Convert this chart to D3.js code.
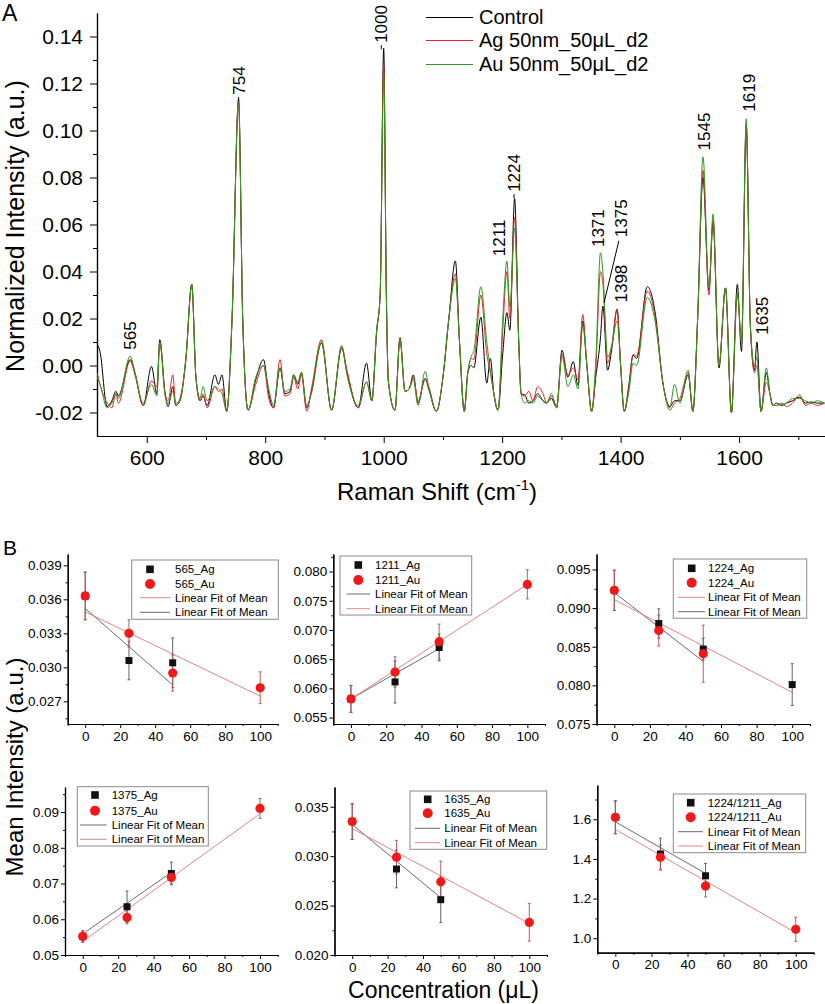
<!DOCTYPE html>
<html><head><meta charset="utf-8">
<script src="https://cdn.jsdelivr.net/npm/d3@7"></script>
<style>
body{margin:0;background:#fff;}
svg text{font-family:"Liberation Sans",Arial,Helvetica,sans-serif;fill:#000;}
</style></head><body>
<svg id="c" width="825" height="1004"></svg>
<script>
// ---------------- DATA: Panel A (Raman spectra, key points) ----------------
const wavenumber = [516,521,533,541,548,552,572,580,594,608,617,622,631,636,644,649,656,666,676,683,690,695,702,715,721,727,735,744,755,762,771,784,797,806,814,825,833,842,848,855,861,870,878,895,912,929,938,957,971,980,988,994,1000,1004.5,1008,1019,1027.5,1036,1043,1050,1058,1070,1076,1089,1100,1110,1121,1128,1136,1142,1148,1152,1164,1174,1180,1186,1193,1201,1208,1213,1221,1228,1232,1238,1245,1252,1260,1269,1275,1283,1292,1301,1311,1320,1328,1336,1343,1351,1358,1366,1370,1378,1385,1394,1400,1406,1414,1421,1427,1445,1458,1472,1483,1491,1500,1514,1522,1530,1539,1549,1556,1566,1577,1587,1597,1604,1612,1619,1626,1630,1637,1646,1652,1657,1663,1672,1680,1690,1702,1712,1722,1732,1744];
const controlSpec = [0.009,0.006,-0.0175,-0.015,-0.011,-0.013,0.0025,-0.003,-0.017,-0.0004,-0.012,0.011,-0.012,-0.0175,-0.009,-0.017,-0.015,0.003,0.0345,-0.005,-0.015,-0.013,-0.017,-0.004,-0.008,-0.004,-0.0195,0.02,0.1135,0.02,-0.019,-0.006,0.0025,-0.012,-0.018,-0.001,-0.012,-0.011,-0.004,-0.008,-0.003,-0.018,-0.011,0.0096,-0.019,0.0074,-0.003,-0.018,0.001,-0.015,0.014,0.03,0.135,0.03,-0.007,-0.019,0.0115,-0.011,-0.010,-0.004,-0.016,-0.0055,-0.010,-0.0195,-0.005,0.02,0.0445,0.01,-0.0195,-0.003,0.000,-0.001,0.0205,-0.0075,0.003,-0.012,-0.019,0.005,0.0225,0.015,0.071,0.01,-0.012,-0.0125,-0.016,-0.015,-0.012,-0.015,-0.016,-0.014,-0.018,0.0065,-0.005,0.0017,-0.0085,0.019,0.000,-0.0195,-0.005,0.012,0.0253,-0.002,0.007,0.0239,0.000,-0.0195,-0.008,0.0044,0.003,0.0336,0.023,-0.0085,-0.0175,-0.015,-0.015,-0.004,-0.0195,0.02,0.080,0.032,0.061,-0.001,0.033,-0.020,0.0345,0.006,0.1025,0.017,-0.002,0.010,-0.0195,-0.003,-0.012,-0.017,-0.016,-0.017,-0.016,-0.015,-0.0135,-0.016,-0.0155,-0.016,-0.016];
const agSpec = [-0.003,-0.008,-0.016,-0.018,-0.012,-0.016,0.002,-0.004,-0.017,-0.0065,-0.009,0.010,-0.012,-0.015,-0.004,-0.017,-0.014,0.002,0.0345,-0.005,-0.015,-0.012,-0.018,-0.009,-0.011,-0.010,-0.0195,0.02,0.1125,0.02,-0.019,-0.008,0.000,-0.014,-0.018,0.0025,-0.013,-0.012,-0.005,-0.010,-0.004,-0.0195,-0.010,0.011,-0.019,0.008,-0.002,-0.018,-0.007,-0.015,0.014,0.03,0.128,0.03,-0.007,-0.019,0.012,-0.011,-0.010,-0.005,-0.015,-0.006,-0.009,-0.0195,-0.005,0.02,0.039,0.01,-0.0195,-0.003,0.003,0.0025,0.030,0.005,-0.003,-0.012,-0.019,0.015,0.040,0.020,0.063,0.01,-0.012,-0.013,-0.011,-0.015,-0.009,-0.012,-0.016,-0.013,-0.017,0.005,-0.004,-0.001,-0.006,0.0217,0.000,-0.0195,-0.002,0.040,0.035,0.001,0.0085,0.0239,0.000,-0.0195,-0.009,0.0047,0.004,0.0317,0.021,-0.0085,-0.019,-0.016,-0.014,-0.003,-0.0195,0.02,0.083,0.030,0.062,0.000,0.033,-0.020,0.030,0.011,0.102,0.017,-0.003,0.000,-0.0195,-0.007,-0.012,-0.017,-0.017,-0.016,-0.0175,-0.016,-0.0125,-0.017,-0.016,-0.017,-0.016];
const auSpec = [-0.005,-0.008,-0.018,-0.016,-0.012,-0.014,0.004,-0.003,-0.016,-0.008,-0.013,0.010,-0.013,-0.016,-0.011,-0.016,-0.015,0.003,0.0345,-0.005,-0.014,-0.009,-0.015,-0.009,-0.010,-0.012,-0.0195,0.02,0.112,0.02,-0.019,-0.005,0.000,-0.010,-0.017,-0.001,-0.011,-0.010,-0.004,-0.007,-0.003,-0.017,-0.012,0.010,-0.019,0.0085,-0.004,-0.017,-0.007,-0.015,0.015,0.03,0.124,0.03,-0.007,-0.019,0.011,-0.011,-0.010,-0.006,-0.017,-0.0025,-0.009,-0.0195,-0.005,0.02,0.037,0.01,-0.0195,-0.003,0.004,0.006,0.0335,0.010,-0.002,-0.012,-0.019,0.020,0.0445,0.025,0.0585,0.01,-0.012,-0.016,-0.015,-0.016,-0.013,-0.015,-0.016,-0.012,-0.018,0.004,-0.009,-0.004,-0.010,0.017,0.000,-0.0195,0.002,0.048,0.040,0.0035,0.0085,0.019,0.000,-0.0195,-0.011,0.001,0.000,0.029,0.019,-0.0085,-0.018,-0.008,-0.016,-0.002,-0.0195,0.02,0.0888,0.033,0.0645,0.000,0.033,-0.020,0.031,0.010,0.105,0.017,0.000,0.0035,-0.0195,-0.001,-0.012,-0.017,-0.017,-0.0165,-0.016,-0.014,-0.014,-0.015,-0.016,-0.015,-0.016];
const seriesNames = ["Control","Ag 50nm_50\u03bcL_d2","Au 50nm_50\u03bcL_d2"];
const xTickValues = [600,800,1000,1200,1400,1600];
const yTickValues = [-0.02,0,0.02,0.04,0.06,0.08,0.10,0.12,0.14];
const peakLabels = ["565","754","1000","1211","1224","1371","1375","1398","1545","1619","1635"];
const peakLabelWn = [572,755,996,1195,1220,1362,1401,1401,1541,1616,1639];
const peakLabelBase = [0.0067,0.1152,0.1373,0.0465,0.0739,0.0504,0.0546,0.0268,0.0915,0.108,0.0131];

// ---------------- DATA: Panel B (mean intensity vs concentration) ----------------
const bands = ["565","1211","1224","1375","1635","1224/1211"];
const agConc = [[0,25,50],[0,25,50],[0,25,50,100],[0,25,50],[0,25,50],[0,25,50]];
const agMean = [[0.0363,0.0306,0.0304],[0.0582,0.0611,0.0670],[0.0923,0.0880,0.0847,0.0801],[0.0552,0.0635,0.0728],[0.0335,0.0287,0.0256],[1.610,1.425,1.315]];
const agErr  = [[0.0021,0.0017,0.0022],[0.0023,0.0036,0.0023],[0.0026,0.0019,0.0014,0.0027],[0.0016,0.0044,0.0032],[0.0018,0.0019,0.0023],[0.083,0.080,0.062]];
const auConc = [[0,25,50,100],[0,25,50,100],[0,25,50],[0,25,50,100],[0,25,50,100],[0,25,50,100]];
const auMean = [[0.0363,0.0330,0.0295,0.0282],[0.0582,0.0628,0.0680,0.0778],[0.0923,0.0871,0.0841],[0.0552,0.0605,0.0717,0.0910],[0.0335,0.0299,0.0274,0.0233],[1.610,1.408,1.263,1.045]];
const auErr  = [[0.0021,0.0012,0.0016,0.0014],[0.0023,0.0026,0.0030,0.0025],[0.0026,0.0020,0.0037],[0.0016,0.0018,0.0018,0.0028],[0.0018,0.0017,0.0021,0.0019],[0.083,0.063,0.055,0.061]];
// fit line endpoints [x0, y0, x1, y1]
const agFit = [[0,0.0352,50,0.02845],[0,0.0582,50,0.0668],[0,0.0920,50,0.0831],[0,0.0559,50,0.0731],[0,0.0332,50,0.0258],[0,1.587,50,1.327]];
const auFit = [[0,0.0349,100,0.02746],[0,0.0582,100,0.0778],[0,0.0911,100,0.0791],[0,0.0538,100,0.0895],[0,0.0328,100,0.0232],[0,1.549,100,1.028]];
const yDomains = [[0.025,0.040],[0.0539,0.083],[0.075,0.097],[0.05,0.097],[0.020,0.037],[0.927,1.773]];
const yTicksB = [[0.027,0.030,0.033,0.036,0.039],[0.055,0.060,0.065,0.070,0.075,0.080],[0.075,0.080,0.085,0.090,0.095],[0.05,0.06,0.07,0.08,0.09],[0.020,0.025,0.030,0.035],[1.0,1.2,1.4,1.6]];
const yDecimals = [3,3,3,2,3,1];
const concTicks = [0,20,40,60,80,100];
const fitLabel = "Linear Fit of Mean";

// ---------------- DRAWING ----------------
const svg = d3.select("#c");
const FONT = '"Liberation Sans",Arial,Helvetica,sans-serif';
const colC = "#000000", colAg = "#e3262c", colAu = "#2f9a1f";

function styleAxis(g, fs){
  g.attr("font-size", fs).attr("font-family", FONT);
  g.selectAll("path.domain").attr("stroke","#000").attr("stroke-width",1.2);
  g.selectAll(".tick line").attr("stroke","#000").attr("stroke-width",1);
  g.selectAll(".tick text").attr("fill","#000");
}

// Panel A
const xS = d3.scaleLinear().domain([516,1745]).range([97,825]);
const yS = d3.scaleLinear().domain([-0.03,0.15]).range([436,13]);

const gxA = svg.append("g").attr("transform","translate(0,436)")
  .call(d3.axisBottom(xS).tickValues(xTickValues).tickSize(7).tickPadding(7).tickSizeOuter(0).tickFormat(d3.format("d")));
styleAxis(gxA, 21);
const gxAm = svg.append("g").attr("transform","translate(0,436)")
  .call(d3.axisBottom(xS).tickValues([700,900,1100,1300,1500,1700]).tickSize(4).tickSizeOuter(0).tickFormat(""));
styleAxis(gxAm, 21);
const gyA = svg.append("g").attr("transform","translate(97,0)")
  .call(d3.axisLeft(yS).tickValues(yTickValues).tickSize(7).tickPadding(7).tickSizeOuter(0).tickFormat(d=>d.toFixed(2)));
styleAxis(gyA, 21);
const gyAm = svg.append("g").attr("transform","translate(97,0)")
  .call(d3.axisLeft(yS).tickValues([-0.01,0.01,0.03,0.05,0.07,0.09,0.11,0.13]).tickSize(4).tickSizeOuter(0).tickFormat(""));
styleAxis(gyAm, 21);

const specLine = d3.line().x((d,i)=>xS(wavenumber[i])).y(d=>yS(d)).curve(d3.curveMonotoneX);
const specs = [controlSpec, agSpec, auSpec];
const specCols = [colC, colAg, colAu];
svg.append("clipPath").attr("id","clipA").append("rect").attr("x",97).attr("y",0).attr("width",728).attr("height",436);
specs.forEach((s,k)=>{
  svg.append("path").attr("d",specLine(s)).attr("fill","none").attr("stroke",specCols[k])
    .attr("stroke-width",1).attr("stroke-linejoin","round").attr("clip-path","url(#clipA)");
});

// peak labels
peakLabels.forEach((t,i)=>{
  const px = xS(peakLabelWn[i]), py = yS(peakLabelBase[i]);
  svg.append("text").attr("transform",`translate(${px},${py}) rotate(-90)`)
    .attr("dy","0.36em").attr("font-size",17).attr("font-family",FONT).text(t);
});
// short leaders
[[754,0.1142,0.1128],[1000,0.1363,0.1345],[1224,0.0729,0.0712]].forEach(l=>{
  const wnIdx = peakLabels.indexOf(String(l[0]));
  const px = xS(peakLabelWn[wnIdx]);
  svg.append("line").attr("x1",px).attr("x2",px).attr("y1",yS(l[1])).attr("y2",yS(l[2])).attr("stroke","#000").attr("stroke-width",1);
});
// 1375 diagonal leader
svg.append("line").attr("x1",xS(1397)).attr("y1",yS(0.0531)).attr("x2",xS(1372)).attr("y2",yS(0.0267)).attr("stroke","#000").attr("stroke-width",1);

// legend A
seriesNames.forEach((n,k)=>{
  const yy = 16.5 + k*23.5;
  svg.append("line").attr("x1",426).attr("x2",473).attr("y1",Math.round(yy)+0.5).attr("y2",Math.round(yy)+0.5).attr("stroke",specCols[k]).attr("stroke-width",1.2);
  svg.append("text").attr("x",479).attr("y",yy+7).attr("font-size",20).attr("font-family",FONT).text(n);
});

// titles A
svg.append("text").attr("x",2).attr("y",21).attr("font-size",23).attr("font-family",FONT).text("A");
svg.append("text").attr("transform","translate(15,226) rotate(-90)").attr("text-anchor","middle").attr("dy","0.36em")
  .attr("font-size",25).attr("font-family",FONT).text("Normalized Intensity (a.u.)");
const xt = svg.append("text").attr("x",437).attr("y",500).attr("text-anchor","middle").attr("font-size",24).attr("font-family",FONT);
xt.append("tspan").text("Raman Shift (cm");
xt.append("tspan").attr("font-size",15).attr("dy",-10).text("-1");
xt.append("tspan").attr("dy",10).text(")");

// Panel B
svg.append("text").attr("x",3).attr("y",555).attr("font-size",21).attr("font-family",FONT).text("B");
svg.append("text").attr("transform","translate(14,767) rotate(-90)").attr("text-anchor","middle").attr("dy","0.36em")
  .attr("font-size",24).attr("font-family",FONT).text("Mean Intensity (a.u.)");
svg.append("text").attr("x",443.5).attr("y",998).attr("text-anchor","middle").attr("font-size",23).attr("font-family",FONT).text("Concentration (\u03bcL)");

const layouts = [
  {L:67.7,R:277.7,T:554,B:724, box:[131.7,560,278.3,619.3], rows:[569.3,584,597.7,612.3], sym:150, l0:140, l1:170, tx:175, order:["au","ag"]},
  {L:333.3,R:545,T:554,B:724, box:[340,556,471.7,615], rows:[565,580,594,608.7], sym:358.3, l0:346.7, l1:370, tx:375, order:["ag","au"]},
  {L:596.5,R:810,T:554,B:724, box:[673.3,559,806.7,618.3], rows:[568.3,582.7,597.3,611.7], sym:691.7, l0:678, l1:705, tx:708, order:["au","ag"]},
  {L:65,R:277.7,T:787,B:955, box:[77.3,786.7,208.3,846], rows:[795,810.7,825,839.3], sym:95, l0:80, l1:106.7, tx:111.7, order:["ag","au"]},
  {L:334.5,R:547,T:787,B:955, box:[410,791,546.7,849.3], rows:[799.3,813.3,828.3,842.7], sym:427.7, l0:415, l1:440, tx:444.3, order:["ag","au"]},
  {L:597.3,R:813.8,T:785,B:952.7, box:[673.3,794,805.7,852.7], rows:[802.7,817.3,831.7,846], sym:690.7, l0:678, l1:703, tx:707.7, order:["ag","au"]}
];
const fitCol = {ag:"#6b6b6b", au:"#e08585"};
const markRed = "#f01818", markBlack = "#111";

layouts.forEach((c,i)=>{
  const g = svg.append("g");
  const x = d3.scaleLinear().domain([-10,110]).range([c.L,c.R]);
  const y = d3.scaleLinear().domain(yDomains[i]).range([c.B,c.T]);
  const tk = yTicksB[i];
  const step = tk[1]-tk[0];
  const minor = [];
  for(let v=tk[0]-step/2; v<=yDomains[i][1]+1e-9; v+=step) if(v>=yDomains[i][0]-1e-9) minor.push(v);

  const gx = g.append("g").attr("transform",`translate(0,${c.B})`)
    .call(d3.axisBottom(x).tickValues(concTicks).tickSize(4).tickPadding(3).tickSizeOuter(0).tickFormat(d3.format("d")));
  styleAxis(gx,13.5);
  const gxm = g.append("g").attr("transform",`translate(0,${c.B})`)
    .call(d3.axisBottom(x).tickValues([-10,10,30,50,70,90,110]).tickSize(2).tickSizeOuter(0).tickFormat(""));
  styleAxis(gxm,13.5);
  const gy = g.append("g").attr("transform",`translate(${c.L},0)`)
    .call(d3.axisLeft(y).tickValues(tk).tickSize(4).tickPadding(2).tickSizeOuter(0).tickFormat(d=>d.toFixed(yDecimals[i])));
  styleAxis(gy,13.5);
  const gym = g.append("g").attr("transform",`translate(${c.L},0)`)
    .call(d3.axisLeft(y).tickValues(minor).tickSize(2).tickSizeOuter(0).tickFormat(""));
  styleAxis(gym,13.5);

  // fit lines
  [["ag",agFit[i]],["au",auFit[i]]].forEach(([k,f])=>{
    g.append("line").attr("x1",x(f[0])).attr("y1",y(f[1])).attr("x2",x(f[2])).attr("y2",y(f[3]))
      .attr("stroke",fitCol[k]).attr("stroke-width",1);
  });
  // error bars
  function errBars(conc, mean, err, col){
    conc.forEach((cv,j)=>{
      const xx = x(cv);
      g.append("line").attr("x1",xx).attr("x2",xx).attr("y1",y(mean[j]-err[j])).attr("y2",y(mean[j]+err[j])).attr("stroke",col).attr("stroke-width",0.9);
      [mean[j]-err[j], mean[j]+err[j]].forEach(v=>{
        g.append("line").attr("x1",xx-1.5).attr("x2",xx+1.5).attr("y1",y(v)).attr("y2",y(v)).attr("stroke",col).attr("stroke-width",0.9);
      });
    });
  }
  errBars(agConc[i], agMean[i], agErr[i], "#555");
  errBars(auConc[i], auMean[i], auErr[i], "#b05050");
  // markers
  agConc[i].forEach((cv,j)=>{
    g.append("rect").attr("x",x(cv)-3.5).attr("y",y(agMean[i][j])-3.5).attr("width",7).attr("height",7).attr("fill",markBlack);
  });
  auConc[i].forEach((cv,j)=>{
    g.append("circle").attr("cx",x(cv)).attr("cy",y(auMean[i][j])).attr("r",4.6).attr("fill",markRed);
  });

  // legend
  const b = c.box;
  g.append("rect").attr("x",b[0]).attr("y",b[1]).attr("width",b[2]-b[0]).attr("height",b[3]-b[1])
    .attr("fill","#fff").attr("stroke","#8a8a8a").attr("stroke-width",1);
  g.append("rect").attr("x",c.sym-3.8).attr("y",c.rows[0]-3.8).attr("width",7.6).attr("height",7.6).attr("fill",markBlack);
  g.append("circle").attr("cx",c.sym).attr("cy",c.rows[1]).attr("r",5).attr("fill",markRed);
  const lbls = [bands[i]+"_Ag", bands[i]+"_Au", fitLabel, fitLabel];
  c.order.forEach((k,m)=>{
    const yy = c.rows[2+m];
    g.append("line").attr("x1",c.l0).attr("x2",c.l1).attr("y1",yy).attr("y2",yy).attr("stroke",fitCol[k]).attr("stroke-width",1);
  });
  lbls.forEach((t,m)=>{
    g.append("text").attr("x",c.tx).attr("y",c.rows[m]).attr("dy","0.36em").attr("font-size",11.5).attr("font-family",FONT).text(t);
  });
});
</script>
</body></html>
